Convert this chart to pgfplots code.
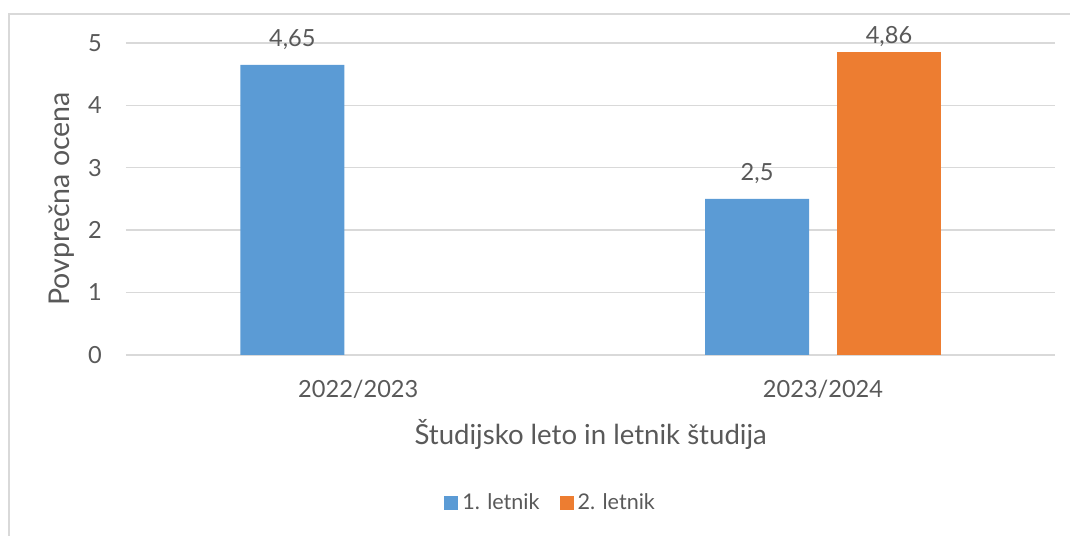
\documentclass[border=0pt]{standalone}
\usepackage{fontspec}
\setmainfont{Lato}
\usepackage{pgfplots}
\pgfplotsset{compat=1.18}
\definecolor{barblue}{HTML}{5B9BD5}
\definecolor{barorange}{HTML}{ED7D31}
\definecolor{gridgray}{HTML}{D9D9D9}
\definecolor{txtgray}{HTML}{595959}
\begin{document}
\begin{tikzpicture}
\path (0pt,0pt) rectangle (535.5pt,268pt);
\draw[gridgray, line width=0.6pt] (4.5pt,0pt) -- (4.5pt,261pt) -- (535.5pt,261pt);
\begin{axis}[
  at={(63pt,90.5pt)}, anchor=south west,
  scale only axis, width=465pt, height=156pt,
  xmin=-0.5, xmax=1.5, ymin=0, ymax=5,
  ybar, bar width=52pt,
  axis line style={draw=none},
  major tick length=0pt,
  ytick={0,1,2,3,4,5},
  xtick={0,1}, xticklabels={2022/2023,2023/2024},
  ymajorgrids, grid style={gridgray, line width=0.75pt},
  /pgf/number format/assume math mode=true,
  /pgf/number format/use comma,
  tick label style={font=\fontsize{11.8}{13}\selectfont, text=txtgray},
  xticklabel style={anchor=center, yshift=-17.5pt},
  yticklabel style={anchor=center, xshift=-15.5pt},
  every axis y label/.style={at={(rel axis cs:0,0.5)}, anchor=center, xshift=-32pt, rotate=90,
    font=\fontsize{14.3}{15}\selectfont, text=txtgray},
  every axis x label/.style={at={(rel axis cs:0.5,0)}, anchor=center, yshift=-40pt,
    font=\fontsize{13.8}{15}\selectfont, text=txtgray},
  ylabel={Povprečna ocena},
  xlabel={Študijsko leto in letnik študija},
  nodes near coords,
  every node near coord/.append style={font=\fontsize{11.8}{13}\selectfont, text=txtgray, yshift=4pt},
  legend style={at={(rel axis cs:0.458,-0.474)}, anchor=center, draw=none, fill=none,
    legend columns=2, font=\fontsize{10.8}{12}\selectfont, text=txtgray,
    /tikz/every even column/.append style={column sep=8pt},
    inner sep=0pt},
  legend image code/.code={\fill[#1,draw=none] (0pt,-3.5pt) rectangle (7pt,3.5pt);},
]
\addplot[fill=barblue, draw=none, bar shift=-33pt] coordinates {(0,4.65) (1,2.5)};
\addplot[fill=barorange, draw=none, bar shift=33pt,
  every node near coord/.append style={yshift=-5pt}] coordinates {(1,4.86)};
\legend{1. letnik, 2. letnik}
\end{axis}
\end{tikzpicture}
\end{document}
